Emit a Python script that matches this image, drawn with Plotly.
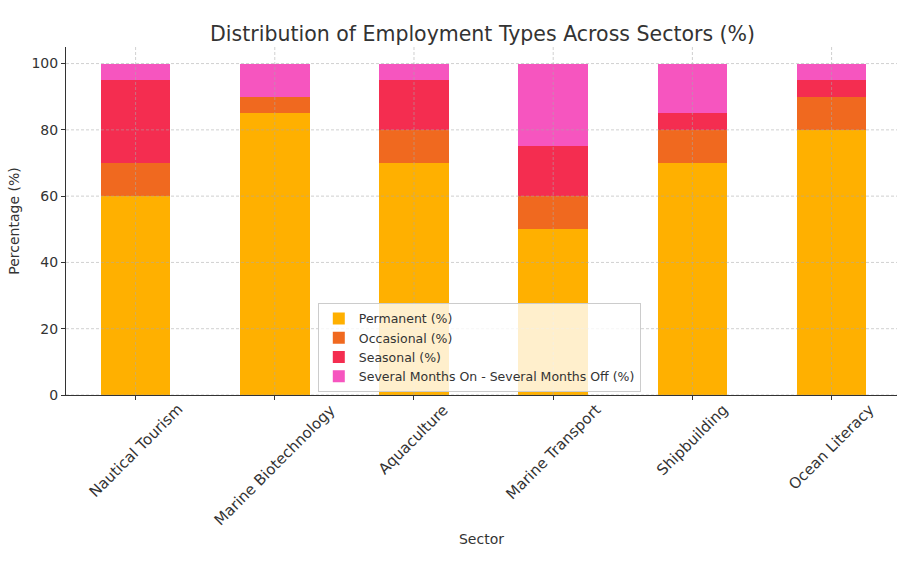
import plotly.graph_objects as go

sectors = ["Nautical Tourism", "Marine Biotechnology", "Aquaculture",
           "Marine Transport", "Shipbuilding", "Ocean Literacy"]
permanent = [60, 85, 70, 50, 70, 80]
occasional = [10, 5, 10, 10, 10, 10]
seasonal = [25, 0, 15, 15, 5, 5]
several_months = [5, 10, 5, 25, 15, 5]
y_ticks = [0, 20, 40, 60, 80, 100]

series = [
    ("Permanent (%)", permanent, "#FFB000"),
    ("Occasional (%)", occasional, "#F0691F"),
    ("Seasonal (%)", seasonal, "#F42D50"),
    ("Several Months On - Several Months Off (%)", several_months, "#F655BF"),
]

font = "DejaVu Sans, sans-serif"
grid_col = "rgba(170,170,170,0.55)"
fig = go.Figure()
for name, vals, col in series:
    fig.add_trace(go.Bar(x=sectors, y=vals, name=name, marker_color=col,
                         marker_line_width=0, width=0.5))

# dashed grid drawn over the bars
shapes = []
for yv in y_ticks:
    shapes.append(dict(type="line", xref="paper", yref="y", x0=0, x1=1, y0=yv, y1=yv,
                       line=dict(color=grid_col, width=1, dash="3px,2px"), layer="above"))
for s in sectors:
    shapes.append(dict(type="line", xref="x", yref="paper", x0=s, x1=s, y0=0, y1=1,
                       line=dict(color=grid_col, width=1, dash="3px,2px"), layer="above"))

# rotated, centred category labels
annotations = [dict(x=s, xref="x", y=0, yref="paper", yshift=-3, text=s,
                    showarrow=False, textangle=-45, xanchor="center", yanchor="top",
                    font=dict(size=15, color="#333333", family=font))
               for s in sectors]

fig.update_layout(
    barmode="stack",
    width=897, height=563,
    margin=dict(l=66, r=0, t=47, b=168),
    paper_bgcolor="white", plot_bgcolor="white",
    font=dict(family=font, color="#333333", size=14),
    title=dict(text="Distribution of Employment Types Across Sectors (%)",
               x=0.538, xanchor="center", y=0.94, yanchor="middle",
               font=dict(size=20.5, color="#333333")),
    legend=dict(x=0.303, y=0.009, xanchor="left", yanchor="bottom",
                bgcolor="rgba(255,255,255,0.8)", bordercolor="#cccccc",
                borderwidth=1, traceorder="normal",
                font=dict(size=12.5, color="#333333"),
                tracegroupgap=0, itemwidth=30),
    shapes=shapes,
    annotations=annotations,
)
fig.update_xaxes(
    range=[-0.5, 5.47], showline=True, linecolor="#333333", linewidth=1,
    ticks="outside", ticklen=4, tickcolor="#333333", showticklabels=False,
    showgrid=False,
    title=dict(text="Sector", standoff=135, font=dict(size=14)),
)
fig.update_yaxes(
    range=[0, 105], showline=True, linecolor="#333333", linewidth=1,
    ticks="outside", ticklen=4, tickcolor="#333333", tickvals=y_ticks,
    showgrid=False, zeroline=False,
    title=dict(text="Percentage (%)", standoff=8, font=dict(size=14)),
    tickfont=dict(size=14),
)

fig.write_html("out.html")
